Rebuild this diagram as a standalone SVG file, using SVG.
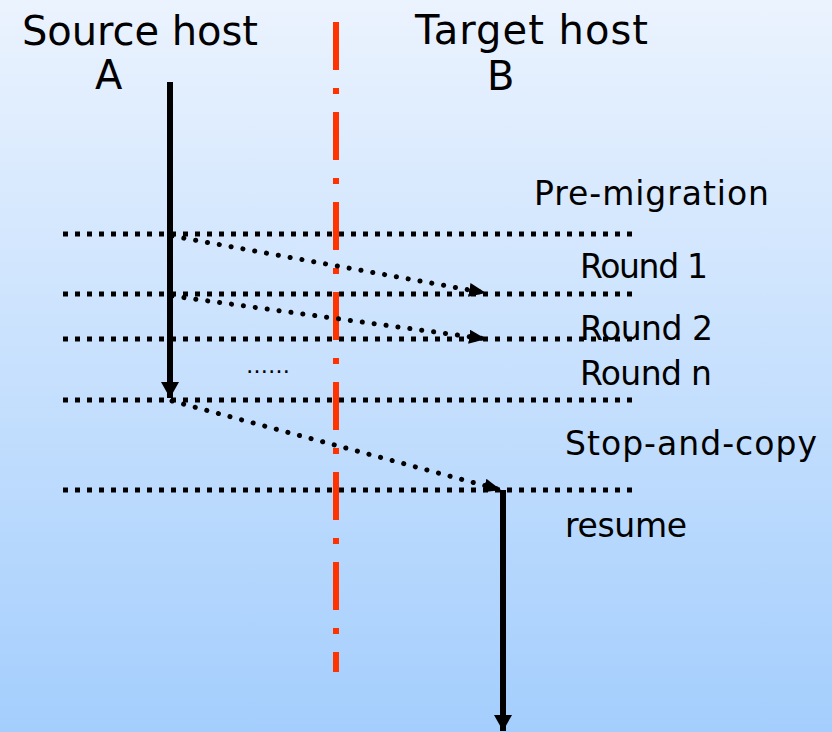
<svg xmlns="http://www.w3.org/2000/svg" width="832" height="732" viewBox="0 0 832 732">
  <defs>
    <linearGradient id="bg" x1="0" y1="0" x2="0" y2="1">
      <stop offset="0" stop-color="#ebf3fe"/>
      <stop offset="1" stop-color="#a4cefd"/>
    </linearGradient>
    <marker id="head" viewBox="0 0 17 14" refX="17" refY="7" markerWidth="17" markerHeight="14" markerUnits="userSpaceOnUse" orient="auto">
      <path d="M0,0 L17,7 L0,14 Z" fill="#000"/>
    </marker>
    <marker id="headDown" viewBox="0 0 16 18" refX="16" refY="9" markerWidth="16" markerHeight="18" markerUnits="userSpaceOnUse" orient="auto">
      <path d="M0,0 L16,9 L0,18 Z" fill="#000"/>
    </marker>
  </defs>
  <style>
    .lbl { font-family: "Comic Sans MS", "DejaVu Sans", "Liberation Sans", sans-serif; fill: #000; }
    .title { font-size: 40px; }
    .phase { font-size: 33px; }
    .stage { stroke: #000; stroke-width: 5; stroke-dasharray: 5 7; fill: none; }
    .transfer { stroke: #000; stroke-width: 5; stroke-linecap: round; stroke-dasharray: 0.1 11.9; fill: none; }
    .timeline { stroke: #000; stroke-width: 6; fill: none; }
    .divider { stroke: #ff3300; stroke-width: 6; stroke-dasharray: 48 18 6 18; fill: none; }
  </style>

  <rect x="0" y="0" width="832" height="732" fill="url(#bg)"/>

  <!-- host headings -->
  <g id="source-host">
    <text class="lbl title" x="22" y="45" textLength="236">Source host</text>
    <text class="lbl title" x="95" y="89">A</text>
  </g>
  <g id="target-host">
    <text class="lbl title" x="415" y="44" textLength="233">Target host</text>
    <text class="lbl title" x="487" y="90">B</text>
  </g>

  <!-- boundary between the two hosts -->
  <g id="host-boundary">
    <line class="divider" x1="336" y1="22" x2="336" y2="672"/>
  </g>

  <!-- phase boundaries -->
  <g id="phase-lines">
    <line class="stage" x1="63" y1="234" x2="636" y2="234"/>
    <line class="stage" x1="63" y1="294" x2="636" y2="294"/>
    <line class="stage" x1="63" y1="339" x2="636" y2="339"/>
    <line class="stage" x1="63" y1="400" x2="636" y2="400"/>
    <line class="stage" x1="63" y1="490" x2="636" y2="490"/>
  </g>

  <!-- phase labels -->
  <g id="pre-migration"><text class="lbl phase" x="534" y="205" textLength="235">Pre-migration</text></g>
  <g id="round-1"><text class="lbl phase" x="580" y="278" textLength="128">Round 1</text></g>
  <g id="round-2"><text class="lbl phase" x="580" y="340" textLength="133">Round 2</text></g>
  <g id="round-n"><text class="lbl phase" x="580" y="385" textLength="132">Round n</text></g>
  <g id="stop-and-copy"><text class="lbl phase" x="565" y="455" textLength="252">Stop-and-copy</text></g>
  <g id="resume"><text class="lbl phase" x="565" y="537" textLength="122">resume</text></g>
  <g id="more-rounds"><text class="lbl" x="246" y="373" font-size="22">……</text></g>

  <!-- execution timelines and memory transfers -->
  <g id="connectors">
    <line class="timeline" x1="170" y1="82" x2="170" y2="398" marker-end="url(#headDown)"/>
    <line class="timeline" x1="503" y1="490" x2="503" y2="731" marker-end="url(#headDown)"/>
    <line class="transfer" x1="172" y1="236" x2="486" y2="293" marker-end="url(#head)"/>
    <line class="transfer" x1="172" y1="296" x2="486" y2="339" marker-end="url(#head)"/>
    <line class="transfer" x1="172" y1="401" x2="501" y2="490" marker-end="url(#head)"/>
  </g>
</svg>
